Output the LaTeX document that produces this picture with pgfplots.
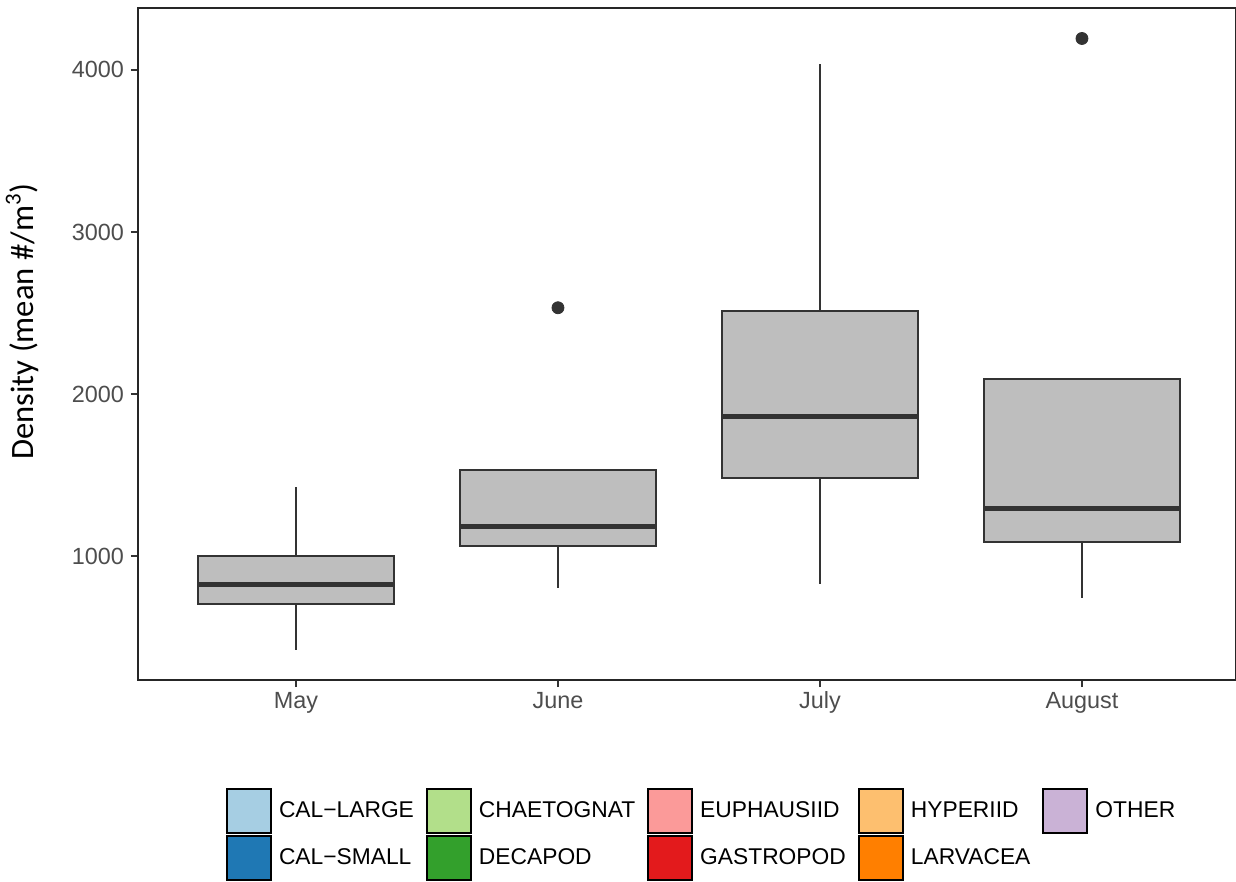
\documentclass[border=0pt]{standalone}
\usepackage{fontspec}
\setmainfont{Liberation Sans}
\newfontfamily\carlito{Carlito}
\usepackage{pgfplots}
\pgfplotsset{compat=1.18}
\definecolor{boxfill}{HTML}{BEBEBE}
\definecolor{boxline}{HTML}{333333}
\definecolor{tickgray}{HTML}{4D4D4D}
\definecolor{c1}{HTML}{A6CEE3}
\definecolor{c2}{HTML}{1F78B4}
\definecolor{c3}{HTML}{B2DF8A}
\definecolor{c4}{HTML}{33A02C}
\definecolor{c5}{HTML}{FB9A99}
\definecolor{c6}{HTML}{E31A1C}
\definecolor{c7}{HTML}{FDBF6F}
\definecolor{c8}{HTML}{FF7F00}
\definecolor{c9}{HTML}{CAB2D6}
\pgfplotsset{
  whisk/.style={draw=boxline, line width=1bp, forget plot},
  bx/.style={fill=boxfill, draw=boxline, line width=1bp, forget plot},
  med/.style={draw=boxline, line width=2.5bp, forget plot},
}
\begin{document}
\begin{tikzpicture}
\path[use as bounding box] (-69bp,-101bp) rectangle (549bp,340bp);
\begin{axis}[
  at={(0,0)}, anchor=south west,
  scale only axis, width=549bp, height=336bp,
  xmin=0.397, xmax=4.588, ymin=238, ymax=4381,
  xtick={1,2,3,4}, xticklabels={May,June,July,August},
  ytick={1000,2000,3000,4000},
  tick pos=left, tick align=outside, major tick length=3.5bp,
  tick style={line width=1bp, color=boxline},
  axis line style={line width=1bp, color=black!85},
  ticklabel style={font=\fontsize{11.7bp}{14bp}\selectfont, text=tickgray},
  xticklabel style={yshift=1bp},
  /pgf/number format/assume math mode=true,
  /pgf/number format/1000 sep={},
  ylabel={Density (mean \#/m\textsuperscript{3})},
  ylabel style={font=\carlito\fontsize{16.3bp}{19bp}\selectfont, at={(axis description cs:-0.1056,0.5335)}, anchor=center},
  legend columns=5,
  legend cell align=left,
  legend image code/.code={\draw[#1] (0bp,-11bp) rectangle (22bp,11bp);},
  legend style={at={(0,0)}, anchor=north west, xshift=44bp, yshift=-54bp,
    draw=none, fill=none, inner sep=0pt, outer sep=0pt, row sep=0.3bp,
    font=\fontsize{11.4bp}{14bp}\selectfont, nodes={inner sep=0pt},
    /tikz/every odd column/.append style={column sep=3.5bp},
    /tikz/every even column/.append style={column sep=6bp}},
]
\addlegendimage{fill=c1, draw=black, line width=1bp}
\addlegendentry{CAL−LARGE}
\addlegendimage{fill=c3, draw=black, line width=1bp}
\addlegendentry{CHAETOGNAT}
\addlegendimage{fill=c5, draw=black, line width=1bp}
\addlegendentry{EUPHAUSIID}
\addlegendimage{fill=c7, draw=black, line width=1bp}
\addlegendentry{HYPERIID}
\addlegendimage{fill=c9, draw=black, line width=1bp}
\addlegendentry{OTHER}
\addlegendimage{fill=c2, draw=black, line width=1bp}
\addlegendentry{CAL−SMALL}
\addlegendimage{fill=c4, draw=black, line width=1bp}
\addlegendentry{DECAPOD}
\addlegendimage{fill=c6, draw=black, line width=1bp}
\addlegendentry{GASTROPOD}
\addlegendimage{fill=c8, draw=black, line width=1bp}
\addlegendentry{LARVACEA}

% May
\addplot[whisk] coordinates {(1,426) (1,705)};
\addplot[whisk] coordinates {(1,1002) (1,1428)};
\addplot[bx] coordinates {(0.625,705) (1.375,705) (1.375,1002) (0.625,1002)} -- cycle;
\addplot[med] coordinates {(0.625,827) (1.375,827)};
% June
\addplot[whisk] coordinates {(2,807) (2,1062)};
\addplot[bx] coordinates {(1.625,1062) (2.375,1062) (2.375,1531) (1.625,1531)} -- cycle;
\addplot[med] coordinates {(1.625,1185) (2.375,1185)};
% July
\addplot[whisk] coordinates {(3,831) (3,1481)};
\addplot[whisk] coordinates {(3,2514) (3,4037)};
\addplot[bx] coordinates {(2.625,1481) (3.375,1481) (3.375,2514) (2.625,2514)} -- cycle;
\addplot[med] coordinates {(2.625,1860) (3.375,1860)};
% August
\addplot[whisk] coordinates {(4,745) (4,1086)};
\addplot[bx] coordinates {(3.625,1086) (4.375,1086) (4.375,2095) (3.625,2095)} -- cycle;
\addplot[med] coordinates {(3.625,1296) (4.375,1296)};
% outliers
\addplot[only marks, mark=*, mark size=3bp, mark options={fill=boxline, draw=boxline}, forget plot]
  coordinates {(2,2533) (4,4193)};
\end{axis}
\end{tikzpicture}
\end{document}
